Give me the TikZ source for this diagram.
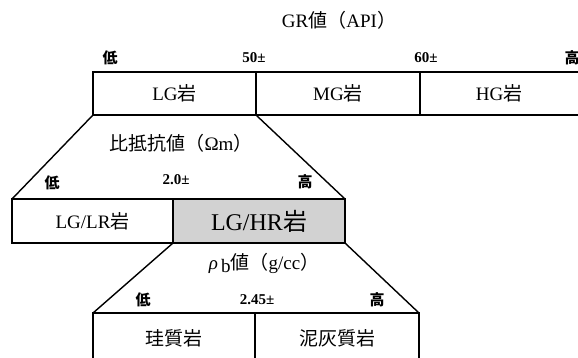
\documentclass[tikz,border=0pt]{standalone}
\usepackage{fontspec}
\setmainfont{Liberation Serif}
\newfontfamily\cjk{Noto Sans CJK JP}
\begin{document}
\begin{tikzpicture}[x=1pt,y=-1pt,line width=1.4pt,
  cell/.style={draw,rectangle,inner sep=0pt,outer sep=0pt,font=\fontsize{19}{22}\selectfont},
  opencell/.style={rectangle,inner sep=0pt,outer sep=0pt,font=\fontsize{19}{22}\selectfont},
  tick/.style={inner sep=0pt,font=\fontsize{15}{17}\selectfont\bfseries},
  head/.style={inner sep=0pt,font=\fontsize{19}{21}\selectfont},
  hrcell/.style={draw,rectangle,inner sep=0pt,outer sep=0pt,fill=gray!35,line width=2.6pt,font=\fontsize{24}{28}\selectfont}]
\useasboundingbox (0,0) rectangle (578,357);
% title
\node[head] (title) at (339,20) {GR{\cjk 値（}API{\cjk ）}};
% level 1
\node[cell,minimum width=163pt,minimum height=43pt] (lg) at (174.5,93.5) {LG{\cjk 岩}};
\node[cell,minimum width=164pt,minimum height=43pt] (mg) at (338,93.5) {MG{\cjk 岩}};
\node[opencell,minimum width=158pt,minimum height=43pt] (hg) at (499,93.5) {HG{\cjk 岩}};
\draw (hg.north west) -- (hg.north east);
\draw (hg.south west) -- (hg.south east);
\node[tick] (l1) at (110,58) {\cjk 低};
\node[tick] (t50) at (254,58) {50±};
\node[tick] (t60) at (426,58) {60±};
\node[tick] (h1) at (572,58) {\cjk 高};
% level 2
\node[head] (res) at (181,143) {{\cjk 比抵抗値（}Ωm{\cjk ）}};
\node[tick] (l2) at (52,183) {\cjk 低};
\node[tick] (t20) at (176,180) {2.0±};
\node[tick] (h2) at (305,182) {\cjk 高};
\node[cell,minimum width=161pt,minimum height=44pt] (lr) at (92.5,221) {LG/LR{\cjk 岩}};
\node[hrcell,minimum width=172pt,minimum height=44pt] (hr) at (259,221) {LG/HR{\cjk 岩}};
\draw (lg.south west) -- (lr.north west);
\draw (lg.south east) -- (hr.north east);
% level 3
\node[head] (rho) at (264,263) {\textit{ρ}\,\raisebox{-3pt}{b}{\cjk 値（}g/cc{\cjk ）}};
\node[tick] (l3) at (143,300) {\cjk 低};
\node[tick] (t245) at (257,300) {2.45±};
\node[tick] (h3) at (377,300) {\cjk 高};
\node[opencell,minimum width=162pt,minimum height=50pt] (si) at (174,338) {\cjk 珪質岩};
\node[opencell,minimum width=164pt,minimum height=50pt] (ma) at (337,338) {\cjk 泥灰質岩};
\draw (si.south west) -- (si.north west) -- (ma.north east) -- (ma.south east);
\draw (si.north east) -- (si.south east);
\draw (hr.south west) -- (si.north west);
\draw (hr.south east) -- (ma.north east);
\end{tikzpicture}
\end{document}
